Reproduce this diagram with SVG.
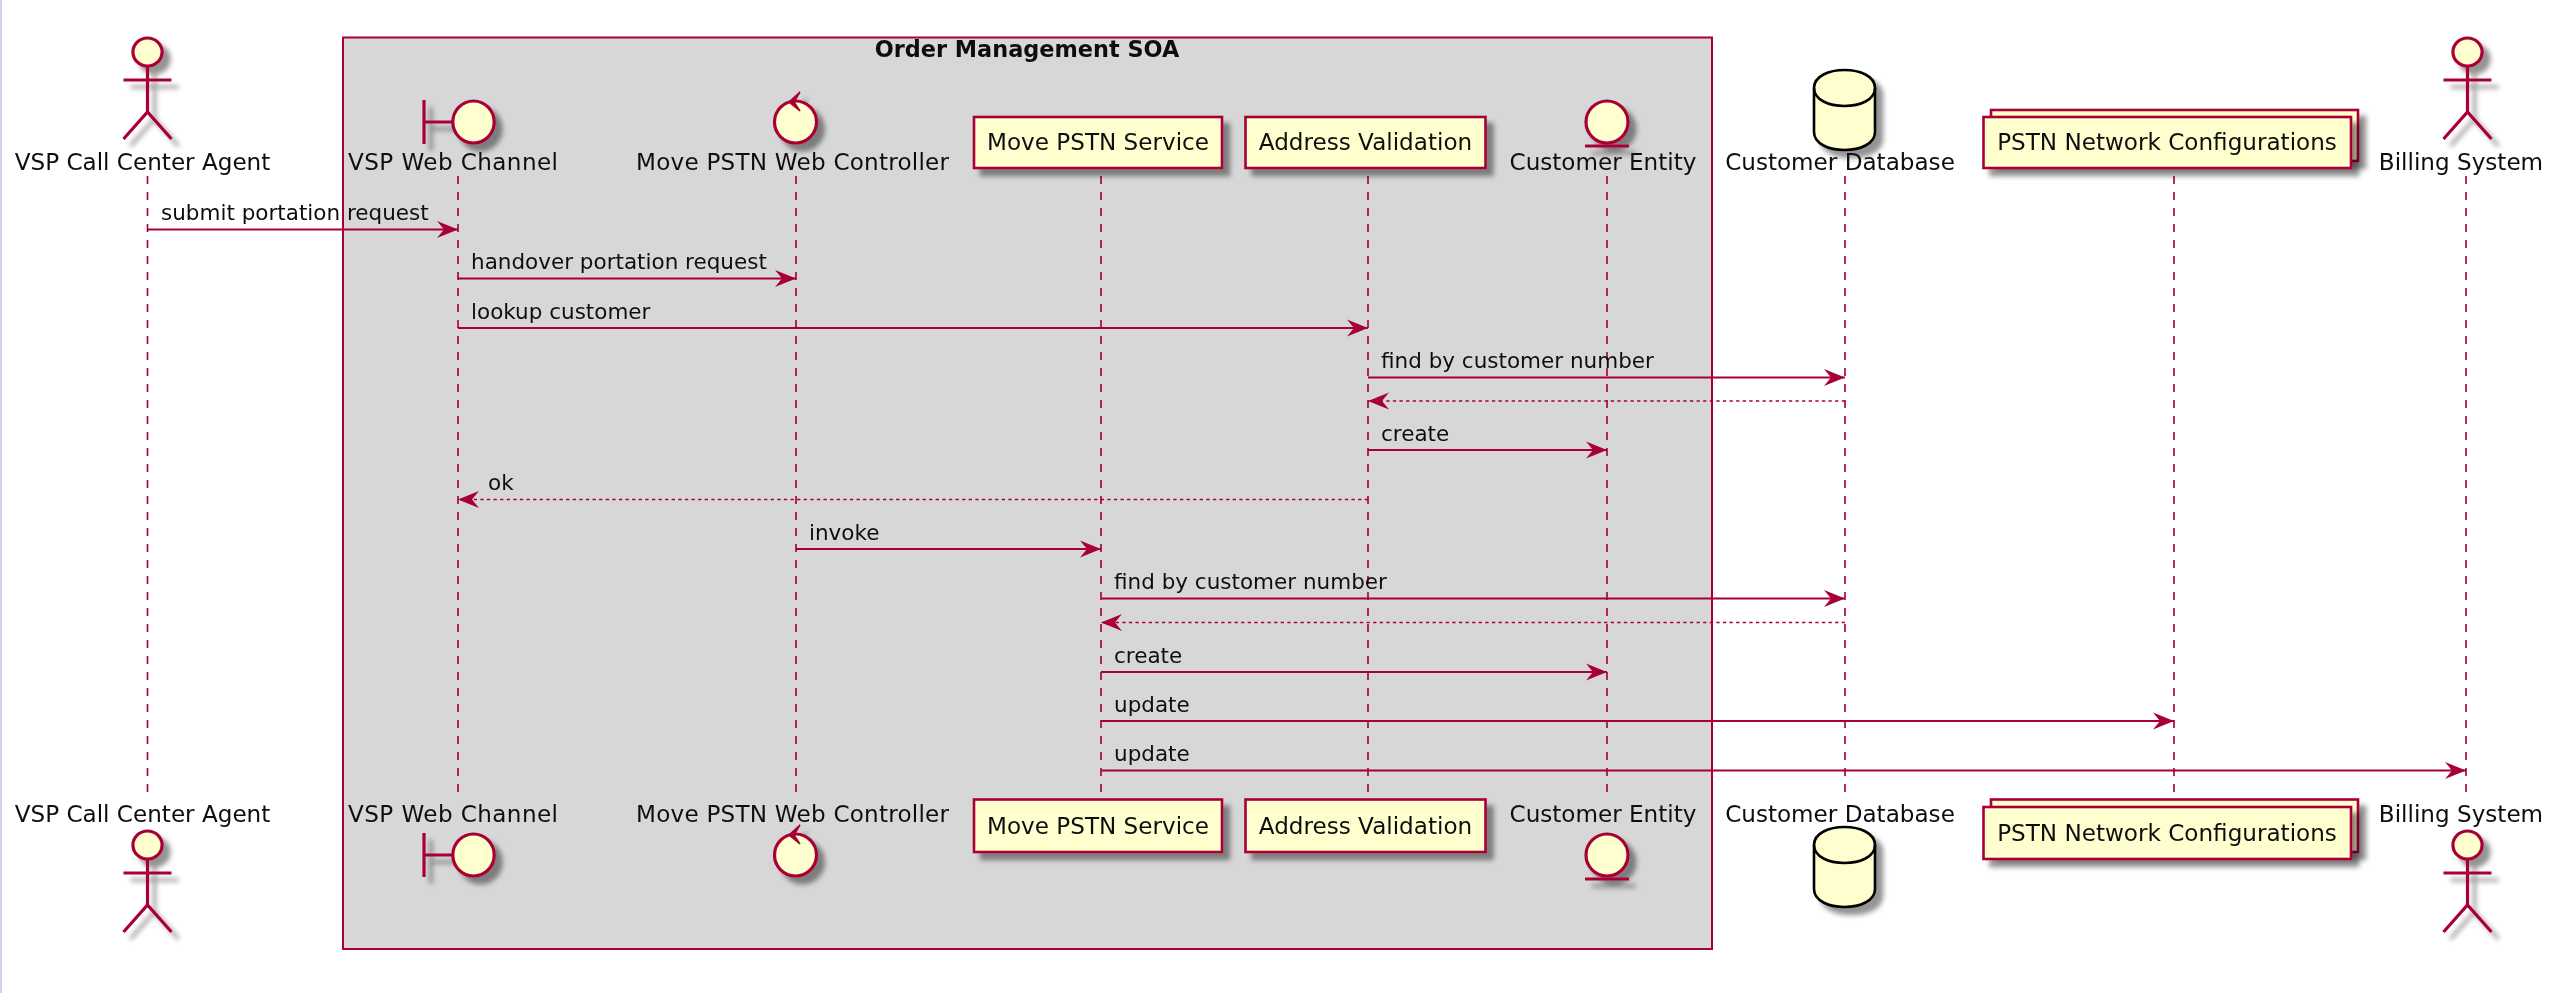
<svg xmlns="http://www.w3.org/2000/svg" width="2556" height="993" viewBox="0 0 2556 993">
<style>
text{font-family:"DejaVu Sans",sans-serif;font-size:23.1px;fill:#111}
.t{font-size:21.5px}
.b{font-weight:bold;font-size:22.4px}
.m{text-anchor:middle}
.ll{stroke:#A80036;stroke-width:1.63;stroke-dasharray:8 8;fill:none}
.msg{stroke:#A80036;stroke-width:1.9;fill:none;marker-end:url(#ah)}
.ret{stroke:#A80036;stroke-width:1.63;stroke-dasharray:3.3 3.3;fill:none;marker-end:url(#ah)}
.p{fill:#FEFECE;stroke:#A80036;stroke-width:2.6}
.c{fill:#FEFECE;stroke:#A80036;stroke-width:3.2}
.l{fill:none;stroke:#A80036;stroke-width:3.2}
.db{fill:#FEFECE;stroke:#000;stroke-width:2.6}
.sh{filter:url(#ds)}
</style>
<defs>
<filter id="ds" x="-30%" y="-30%" width="170%" height="170%"><feDropShadow dx="7" dy="7" stdDeviation="2.8" flood-color="#000" flood-opacity=".42"/></filter>
<filter id="soft" x="0" y="0" width="100%" height="100%"><feGaussianBlur stdDeviation=".55"/></filter>
<marker id="ah" markerUnits="userSpaceOnUse" markerWidth="24" markerHeight="20" refX="21" refY="9" orient="auto"><path d="M0 .5L21 9L0 17.5L7 9Z" fill="#A80036"/></marker>
<g id="actor"><ellipse class="c" cx="0" cy="14" rx="14.6" ry="14"/><path class="l" d="M0 28V74M-24 42H24M-24 101L0 74L24 101"/></g>
</defs>
<rect width="2556" height="993" fill="#fff"/>
<g filter="url(#soft)">
<rect x="0" y="0" width="2" height="993" fill="#d4d4e8"/>
<g id="box"><rect x="343" y="37.5" width="1369" height="911.5" fill="#D7D7D7" stroke="#A80036" stroke-width="2"/><text class="b m" x="1027" y="57">Order Management SOA</text></g>
<g id="lifelines">
<path class="ll" d="M147.5 176V796"/><path class="ll" d="M458 176V796"/><path class="ll" d="M796 176V796"/><path class="ll" d="M1101 176V796"/><path class="ll" d="M1368 176V796"/><path class="ll" d="M1607 176V796"/><path class="ll" d="M1845 176V796"/><path class="ll" d="M2174 176V796"/><path class="ll" d="M2466 176V796"/>
</g>
<g id="connectors">
<path class="msg" d="M147.5 229.5H458"/><text class="t" x="161" y="219.5">submit portation request</text>
<path class="msg" d="M458 278.5H796"/><text class="t" x="471" y="268.5">handover portation request</text>
<path class="msg" d="M458 328H1368"/><text class="t" x="471" y="318.5">lookup customer</text>
<path class="msg" d="M1368 377.5H1845"/><text class="t" x="1381" y="367.5">find by customer number</text>
<path class="ret" d="M1845 401H1368"/>
<path class="msg" d="M1368 450H1607"/><text class="t" x="1381" y="440.5">create</text>
<path class="ret" d="M1368 499.5H458"/><text class="t" x="488" y="489.5">ok</text>
<path class="msg" d="M796 549H1101"/><text class="t" x="809" y="539.5">invoke</text>
<path class="msg" d="M1101 598.5H1845"/><text class="t" x="1114" y="588.5">find by customer number</text>
<path class="ret" d="M1845 622.5H1101"/>
<path class="msg" d="M1101 672H1607"/><text class="t" x="1114" y="662.5">create</text>
<path class="msg" d="M1101 721H2174"/><text class="t" x="1114" y="711.5">update</text>
<path class="msg" d="M1101 770.5H2466"/><text class="t" x="1114" y="760.5">update</text>
</g>
<g id="vsp-agent"><use href="#actor" x="147.5" y="38" class="sh"/><text class="m" x="142.5" y="170">VSP Call Center Agent</text><use href="#actor" x="147.5" y="831" class="sh"/><text class="m" x="142.5" y="822">VSP Call Center Agent</text></g>
<g id="vsp-web-channel">
<g class="sh"><path class="l" d="M424 100V144M424 122H453"/><ellipse class="c" cx="473.5" cy="122" rx="20.7" ry="21"/></g><text class="m" x="453" y="170" textLength="210">VSP Web Channel</text>
<text class="m" x="453" y="822" textLength="210">VSP Web Channel</text><g class="sh"><path class="l" d="M424 833V877M424 855H453"/><ellipse class="c" cx="473.5" cy="855" rx="20.7" ry="21"/></g>
</g>
<g id="move-pstn-controller">
<g class="sh"><ellipse class="c" cx="795.5" cy="122" rx="21" ry="21"/><path d="M800 92L789 102L800 111L794 102Z" fill="#A80036" stroke="#A80036" stroke-width="1.5"/></g><text class="m" x="792.5" y="170" textLength="313">Move PSTN Web Controller</text>
<text class="m" x="792.5" y="822" textLength="313">Move PSTN Web Controller</text><g class="sh"><ellipse class="c" cx="795.5" cy="855" rx="21" ry="21"/><path d="M800 825L789 835L800 844L794 835Z" fill="#A80036" stroke="#A80036" stroke-width="1.5"/></g>
</g>
<g id="move-pstn-service">
<rect class="p sh" x="974" y="117" width="248" height="51"/><text class="m" x="1098" y="150">Move PSTN Service</text>
<rect class="p sh" x="974" y="799.5" width="248" height="52.5"/><text class="m" x="1098" y="834">Move PSTN Service</text>
</g>
<g id="address-validation">
<rect class="p sh" x="1245.5" y="117" width="240" height="51"/><text class="m" x="1365.5" y="150">Address Validation</text>
<rect class="p sh" x="1245.5" y="799.5" width="240" height="52.5"/><text class="m" x="1365.5" y="834">Address Validation</text>
</g>
<g id="customer-entity">
<g class="sh"><ellipse class="c" cx="1607" cy="122" rx="21" ry="21"/><path class="l" d="M1585 146H1629"/></g><text class="m" x="1603" y="170">Customer Entity</text>
<text class="m" x="1603" y="822">Customer Entity</text><g class="sh"><ellipse class="c" cx="1607" cy="855" rx="21" ry="21"/><path class="l" d="M1585 879H1629"/></g>
</g>
<g id="customer-database">
<path class="db sh" d="M1814 88C1814 64 1875 64 1875 88V132C1875 156 1814 156 1814 132Z"/><path d="M1814 88C1814 112 1875 112 1875 88" fill="none" stroke="#000" stroke-width="2.6"/><text class="m" x="1840" y="170">Customer Database</text>
<text class="m" x="1840" y="822">Customer Database</text>
<path class="db sh" d="M1814 845C1814 821 1875 821 1875 845V889C1875 913 1814 913 1814 889Z"/><path d="M1814 845C1814 869 1875 869 1875 845" fill="none" stroke="#000" stroke-width="2.6"/>
</g>
<g id="pstn-network-configurations">
<rect class="p sh" x="1991" y="110" width="367" height="51"/><rect class="p sh" x="1983.5" y="117" width="367.5" height="51"/><text class="m" x="2167" y="150">PSTN Network Configurations</text>
<rect class="p sh" x="1991" y="799.5" width="367" height="52.5"/><rect class="p sh" x="1983.5" y="807" width="367.5" height="52"/><text class="m" x="2167" y="841">PSTN Network Configurations</text>
</g>
<g id="billing-system"><use href="#actor" x="2467.5" y="38" class="sh"/><text class="m" x="2461" y="170">Billing System</text><use href="#actor" x="2467.5" y="831" class="sh"/><text class="m" x="2461" y="822">Billing System</text></g>
</g>
</svg>
